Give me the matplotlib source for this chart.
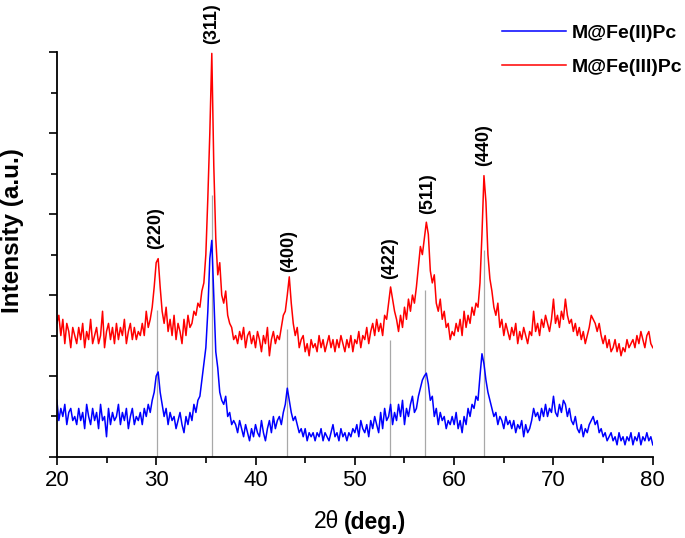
import numpy as np
import matplotlib
matplotlib.use('Agg')
import matplotlib.pyplot as plt

plt.rcParams['font.family'] = ['Liberation Sans', 'DejaVu Sans']

# 2theta grid: 20 ~ 80 deg, step 0.2
two_theta_start = 20.0
two_theta_end = 80.0

# M@Fe(III)Pc (red, upper trace), rows of 2 deg
red_y = [
    3.3, 3.5, 3.0, 3.4, 2.8, 3.3, 3.1, 2.7, 3.2, 3.0,
    2.8, 3.2, 2.9, 3.3, 2.7, 3.1, 2.9, 3.4, 2.8, 3.0,
    3.2, 2.8, 3.0, 3.6, 2.7, 3.1, 3.3, 2.9, 3.2, 2.8,
    3.3, 2.9, 3.2, 3.0, 3.4, 2.8, 3.1, 3.3, 2.9, 3.2,
    2.9, 3.1, 3.0, 3.3, 3.0, 3.6, 3.2, 3.4, 3.7, 4.2,
    4.8, 4.9, 4.2, 3.6, 3.3, 3.7, 3.1, 3.4, 3.0, 3.5,
    2.9, 3.3, 3.1, 2.8, 3.4, 3.0, 3.5, 3.2, 3.3, 3.6,
    3.5, 3.8, 3.7, 4.1, 4.3, 5.0, 6.4, 8.0, 9.97, 7.2,
    5.4, 4.5, 4.8, 4.0, 3.8, 4.1, 3.5, 3.3, 3.2, 2.9,
    3.0, 2.8, 3.1, 2.9, 3.2, 2.7, 3.0, 3.1, 2.8, 3.0,
    2.7, 3.1, 2.9, 2.6, 3.0, 2.8, 3.2, 2.5, 2.9, 3.1,
    2.8, 3.0, 2.9, 3.2, 3.5, 3.6, 4.0, 4.45, 3.8, 3.3,
    3.0, 3.2, 2.7, 2.9, 3.0, 2.6, 2.8, 2.5, 2.9, 2.7,
    2.8, 2.6, 3.0, 2.7, 2.9, 2.6, 2.8, 3.0, 2.7, 2.9,
    2.6, 2.9, 2.7, 3.0, 2.8, 2.6, 2.9, 2.7, 3.0, 2.6,
    2.9, 2.8, 3.1, 2.7, 3.0, 2.9, 3.2, 2.8, 3.1, 3.3,
    3.0, 3.4, 3.1, 3.3, 3.0, 3.5, 3.4, 3.8, 4.2, 3.9,
    3.6, 3.4, 3.1, 3.5, 3.2, 3.7, 3.4, 3.9, 3.6, 4.0,
    3.8, 4.2, 4.7, 5.2, 5.0, 5.4, 5.8, 5.5, 4.6, 4.3,
    4.5, 3.8, 3.6, 3.9, 3.4, 3.6, 3.2, 3.3, 2.9, 3.1,
    3.0, 3.3, 3.1, 3.4, 3.0, 3.6, 3.2, 3.5, 3.3, 3.7,
    3.5, 3.8, 3.7, 4.3, 5.5, 6.95, 6.3, 5.0, 4.4, 4.1,
    3.7, 3.5, 3.8, 3.2, 3.4, 3.0, 3.3, 3.1, 2.9, 3.2,
    3.0, 3.3, 2.8, 3.1, 2.9, 3.2, 3.0, 2.8, 3.1, 3.0,
    3.6, 3.1, 3.3, 3.0, 3.4, 3.2, 3.5, 3.3, 3.1, 3.4,
    3.9, 3.3, 3.5, 3.2, 3.6, 3.4, 3.9, 3.5, 3.3, 3.4,
    3.1, 3.3, 3.0, 3.2, 2.9, 3.1, 2.8, 3.0, 3.2, 3.5,
    3.4, 3.3, 3.1, 3.3, 3.0, 2.8, 3.0, 2.7, 2.9, 2.6,
    2.7, 2.9, 2.6, 2.8, 2.5, 2.7, 2.6, 2.9, 2.7, 2.8,
    2.9, 2.7, 3.0, 2.8, 3.1, 2.9, 2.7, 3.0, 3.1, 2.8,
    2.7,
]

# M@Fe(II)Pc (blue, lower trace)
blue_y = [
    1.4, 0.9, 1.2, 1.0, 1.3, 0.8, 1.1, 1.2, 0.9, 1.0,
    0.8, 1.2, 0.9, 1.1, 0.7, 1.3, 1.0, 0.8, 1.2, 0.9,
    1.1, 0.7, 1.3, 0.9, 1.0, 0.5, 1.2, 0.8, 1.1, 0.9,
    1.0, 1.3, 0.8, 1.1, 0.9, 1.2, 0.7, 1.0, 1.2, 0.8,
    1.0, 0.9, 1.1, 0.8, 1.2, 1.0, 1.3, 1.1, 1.4, 1.6,
    2.0, 2.1, 1.6, 1.3, 1.0, 1.2, 0.8, 1.1, 0.9, 1.0,
    0.7, 0.9, 1.1, 0.8, 0.6, 1.0, 0.8, 1.1, 0.9, 1.3,
    1.1, 1.4, 1.5, 1.9, 2.3, 2.7, 3.6, 4.9, 5.35, 4.0,
    2.6, 2.2, 1.6, 1.4, 1.3, 1.5, 1.0, 1.1, 0.8, 0.9,
    0.8, 0.6, 0.9, 0.7, 0.5, 0.8, 0.6, 0.4, 0.7, 0.5,
    0.8, 0.6, 0.5, 0.9, 0.6, 0.4, 0.7, 0.9, 0.6, 1.0,
    0.7, 0.9, 1.0, 0.8, 1.1, 1.3, 1.7, 1.4, 1.1, 0.9,
    1.0, 0.8, 0.6, 0.7, 0.5, 0.7, 0.4, 0.6, 0.5, 0.6,
    0.4, 0.6, 0.5, 0.7, 0.4, 0.6, 0.5, 0.4, 0.6, 0.8,
    0.5, 0.6, 0.4, 0.7, 0.5, 0.6, 0.4, 0.6, 0.5, 0.7,
    0.6, 0.8, 0.5, 0.9, 0.7, 0.6, 0.8, 0.5, 0.9, 0.7,
    1.0, 0.8, 0.6, 1.1, 0.7, 1.2, 0.9, 1.0, 1.3, 0.8,
    1.1, 0.9, 1.3, 1.0, 1.4, 0.8, 1.2, 1.0, 1.3, 1.5,
    1.1, 1.2, 1.5, 1.7, 1.9, 2.0, 2.07, 1.8, 1.4, 1.5,
    1.0, 1.2, 0.8, 1.1, 0.9, 1.0, 0.7, 0.9, 0.8, 1.0,
    0.8, 1.1, 0.7, 0.9, 0.6, 1.0, 0.8, 1.2, 1.0, 1.3,
    1.2, 1.5, 1.4, 2.0, 2.55, 2.3, 1.9, 1.6, 1.4, 1.2,
    1.0, 1.1, 0.8, 1.0, 0.9, 0.7, 1.0, 0.8, 0.9, 0.7,
    0.9, 0.6, 0.8, 0.7, 0.9, 0.5, 0.8, 0.6, 0.7, 0.9,
    1.2, 1.0, 1.1, 0.9, 1.2, 1.0, 1.3, 1.0, 1.2, 1.1,
    1.5, 1.1, 1.0, 1.3, 1.1, 1.4, 1.3, 1.0, 1.2, 0.9,
    0.8, 1.0, 0.7, 0.6, 0.8, 0.5, 0.7, 0.6, 0.8, 0.9,
    1.0, 0.8, 0.9, 0.6, 0.7, 0.5, 0.6, 0.4, 0.5, 0.6,
    0.4, 0.5, 0.3, 0.6, 0.4, 0.5, 0.3, 0.5, 0.4, 0.6,
    0.3, 0.5, 0.4, 0.6, 0.3, 0.5, 0.4, 0.6, 0.4, 0.5,
    0.3,
]

# peak (hkl) markers: position, height of gray line, label position
peak_pos = [30.1, 35.6, 43.2, 53.5, 57.1, 63.0]
peak_line_top = [3.63, 6.47, 3.16, 2.89, 4.12, 5.11]
peak_labels = ['(220)', '(311)', '(400)', '(422)', '(511)', '(440)']
label_x = [29.95, 35.6, 43.35, 53.5, 57.3, 62.95]
label_y = [5.15, 10.2, 4.56, 4.4, 6.0, 7.18]

two_theta = np.linspace(two_theta_start, two_theta_end, len(red_y))

fig = plt.figure(figsize=(6.85, 5.38), dpi=100)
ax = fig.add_axes([0.083, 0.1506, 0.870, 0.7524])

# 회색 기준선
ax.vlines(peak_pos, 0, peak_line_top, color='#a8a8a8', linewidth=0.9, zorder=1)

ax.plot(two_theta, blue_y, color='#0000ff', linewidth=1.1, label='M@Fe(II)Pc', zorder=2)
ax.plot(two_theta, red_y, color='#ff0000', linewidth=1.1, label='M@Fe(III)Pc', zorder=2)

for lx, ly, txt in zip(label_x, label_y, peak_labels):
    ax.text(lx, ly, txt, rotation=90, ha='center', va='bottom', fontsize=13,
            fontweight='bold', clip_on=False)

ax.set_xlim(20, 80)
ax.set_ylim(0, 10)
ax.set_xticks(np.arange(20, 81, 10))
ax.set_xticks(np.arange(25, 80, 10), minor=True)
ax.set_yticks(np.arange(0, 11, 2))
ax.set_yticks(np.arange(1, 10, 2), minor=True)
ax.set_yticklabels([])
ax.tick_params(axis='both', which='major', length=6, width=1.2, direction='out', labelsize=16)
ax.tick_params(axis='both', which='minor', length=4, width=1.2, direction='out')
ax.spines['top'].set_visible(False)
ax.spines['right'].set_visible(False)
ax.spines['left'].set_linewidth(1.3)
ax.spines['bottom'].set_linewidth(1.3)

# 축 제목
fig.text(339 / 685, 1 - 522 / 538, '2\u03b8', ha='right', va='center', fontsize=16.5)
fig.text(344 / 685, 1 - 522 / 538, '(deg.)', ha='left', va='center', fontsize=16.5, fontweight='bold')
fig.text(13 / 685, 1 - 231 / 538, 'Intensity (a.u.)', rotation=90, ha='center', va='center',
         fontsize=17.5, fontweight='bold')

ax.legend(loc='upper left', bbox_to_anchor=(502 / 685, 1 - 24 / 538), bbox_transform=fig.transFigure,
          frameon=False, borderpad=0, borderaxespad=0, handlelength=3.3, handletextpad=0.3,
          labelspacing=0.85, prop={'size': 14, 'weight': 'bold'})

fig.savefig('out.png', dpi=100)
